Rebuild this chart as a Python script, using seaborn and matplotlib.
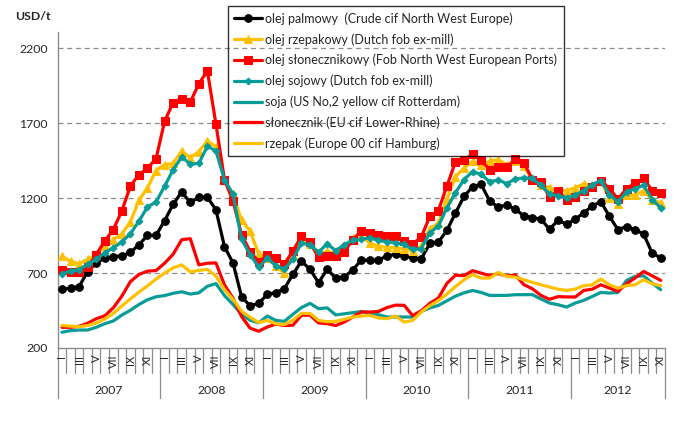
import matplotlib
matplotlib.use("Agg")
import matplotlib.pyplot as plt
import matplotlib.transforms as mtransforms
import numpy as np
import pandas as pd
import seaborn as sns

# monthly prices USD/t, Jan 2007 - Nov 2012
years = ["2007", "2008", "2009", "2010", "2011", "2012"]
month_labels = ["I", "", "III", "", "V", "", "VII", "", "IX", "", "XI", ""]

palm_oil = [593, 598, 610, 710, 768, 800, 810, 815, 838, 889, 952, 952,
            1050, 1160, 1242, 1172, 1205, 1207, 1123, 877, 767, 542, 481, 498,
            558, 570, 596, 692, 780, 725, 636, 725, 667, 673, 722, 787,
            785, 787, 815, 825, 815, 800, 795, 898, 906, 985, 1100, 1212,
            1276, 1293, 1182, 1140, 1156, 1127, 1082, 1071, 1060, 993, 1053, 1026,
            1059, 1103, 1148, 1177, 1079, 990, 1011, 990, 961, 833, 803]
rapeseed_oil = [812, 778, 762, 793, 820, 880, 924, 962, 1042, 1185, 1270, 1385,
                1425, 1432, 1515, 1470, 1511, 1582, 1544, 1320, 1225, 1053, 980, 828,
                802, 745, 700, 820, 924, 891, 820, 847, 829, 869, 936, 947,
                901, 880, 872, 870, 860, 850, 879, 995, 1035, 1192, 1345, 1401,
                1447, 1420, 1447, 1458, 1424, 1447, 1413, 1324, 1291, 1269, 1251, 1250,
                1269, 1296, 1280, 1313, 1202, 1162, 1220, 1220, 1251, 1191, 1169]
sunflower_oil = [718, 709, 709, 740, 824, 913, 991, 1115, 1281, 1358, 1400, 1464,
                 1714, 1839, 1865, 1842, 1963, 2051, 1695, 1324, 1180, 957, 843, 775,
                 820, 800, 760, 849, 945, 906, 805, 817, 812, 842, 924, 981,
                 970, 953, 951, 945, 917, 895, 940, 1078, 1117, 1281, 1442, 1452,
                 1497, 1455, 1389, 1411, 1408, 1459, 1436, 1325, 1306, 1211, 1248, 1189,
                 1209, 1250, 1276, 1318, 1263, 1195, 1262, 1303, 1332, 1250, 1237]
soybean_oil = [696, 713, 724, 758, 791, 836, 869, 909, 962, 1047, 1142, 1175,
               1280, 1390, 1475, 1428, 1433, 1547, 1516, 1323, 1227, 925, 824, 738,
               800, 750, 725, 795, 900, 890, 840, 895, 850, 890, 920, 925,
               936, 918, 909, 902, 891, 858, 864, 969, 1013, 1136, 1236, 1325,
               1377, 1360, 1310, 1322, 1298, 1328, 1336, 1332, 1285, 1230, 1215, 1204,
               1220, 1251, 1291, 1318, 1224, 1176, 1242, 1264, 1287, 1191, 1136]
soybeans = [305, 316, 320, 320, 338, 362, 380, 420, 452, 490, 522, 542,
            550, 565, 575, 560, 568, 612, 630, 550, 490, 425, 385, 368,
            413, 384, 378, 425, 470, 498, 462, 468, 421, 428, 436, 443,
            436, 422, 407, 407, 407, 407, 444, 467, 484, 515, 546, 568,
            584, 571, 551, 551, 551, 556, 556, 556, 527, 500, 489, 473,
            500, 518, 544, 571, 567, 571, 651, 678, 682, 633, 589]
sunflower_seed = [338, 338, 345, 365, 395, 415, 468, 546, 643, 691, 713, 717,
                  766, 826, 923, 930, 755, 766, 768, 621, 532, 410, 332, 312,
                  340, 360, 350, 352, 419, 419, 367, 363, 350, 373, 407, 440,
                  440, 444, 470, 486, 485, 417, 448, 498, 533, 631, 686, 683,
                  716, 700, 683, 697, 681, 688, 623, 595, 551, 525, 543, 541,
                  540, 584, 593, 622, 600, 578, 629, 667, 711, 682, 651]
rapeseed = [350, 346, 342, 350, 366, 393, 430, 481, 528, 573, 615, 660,
            700, 735, 755, 708, 718, 725, 680, 590, 525, 445, 405, 370,
            384, 362, 356, 386, 431, 431, 384, 375, 378, 391, 407, 413,
            418, 400, 396, 413, 373, 384, 440, 483, 516, 560, 610, 655,
            690, 667, 667, 704, 678, 673, 656, 638, 622, 607, 593, 584,
            593, 616, 622, 660, 622, 600, 616, 622, 656, 629, 616]

series_names = [
    "olej palmowy  (Crude cif North West Europe)",
    "olej rzepakowy (Dutch fob ex-mill)",
    "olej słonecznikowy (Fob North West European Ports)",
    "olej sojowy (Dutch fob ex-mill)",
    "soja (US No,2 yellow cif Rotterdam)",
    "słonecznik (EU cif Lower-Rhine)",
    "rzepak (Europe 00 cif Hamburg)",
]
series_values = [palm_oil, rapeseed_oil, sunflower_oil, soybean_oil,
                 soybeans, sunflower_seed, rapeseed]

BLACK = "#000000"
GOLD = "#FFC000"
RED = "#FF0000"
TEAL = "#089C98"
styles = [
    dict(color=BLACK, marker="o", markersize=5.5),
    dict(color=GOLD, marker="^", markersize=6),
    dict(color=RED, marker="s", markersize=5.5),
    dict(color=TEAL, marker="D", markersize=3.5),
    dict(color=TEAL, marker=None, markersize=0),
    dict(color=RED, marker=None, markersize=0),
    dict(color=GOLD, marker=None, markersize=0),
]

sns.set_style("white")
plt.rcParams['font.family'] = ['Lato', 'DejaVu Sans']

fig = plt.figure(figsize=(6.81, 4.22), dpi=100)
ax = fig.add_axes([0.0847, 0.1754, 0.8918, 0.7488])

n = len(palm_oil)
months = np.arange(n)

for i, (name, vals, st) in enumerate(zip(series_names, series_values, styles)):
    df = pd.DataFrame({"month": months, "price": vals})
    kw = dict(color=st["color"], lw=2.3, label=name, zorder=3 + i)
    if st["marker"]:
        kw.update(marker=st["marker"], markersize=st["markersize"],
                  markeredgecolor=st["color"], markerfacecolor=st["color"])
    sns.lineplot(data=df, x="month", y="price", ax=ax, **kw)

GRAY = "#8c8c8c"
ax.set_ylim(200, 2310)
ax.set_xlim(-0.5, n - 0.5)
ax.set_yticks([200, 700, 1200, 1700, 2200])
ax.set_xticks([])
ax.set_xlabel("")
ax.set_ylabel("")
for v in [700, 1200, 1700, 2200]:
    ax.axhline(v, color=GRAY, lw=0.9, ls=(0, (4, 3)), zorder=1)
for s in ["top", "right"]:
    ax.spines[s].set_visible(False)
for s in ["left", "bottom"]:
    ax.spines[s].set_color(GRAY)
    ax.spines[s].set_linewidth(1)
ax.tick_params(axis="y", labelsize=8.8, color=GRAY, length=4, width=1, pad=3)

# two-level category axis, Excel style
trans = mtransforms.blended_transform_factory(ax.transData, ax.transAxes)
for k in range(n + 1):
    long = (k % 12 == 0) or k == n
    ax.plot([k - 0.5, k - 0.5], [0, -0.158 if long else -0.079],
            transform=trans, color=GRAY, lw=0.9, clip_on=False)
for k in range(n):
    lab = month_labels[k % 12]
    if lab:
        ax.text(k, -0.022, lab, rotation=90, ha="center", va="top",
                transform=trans, fontsize=8)
for yi, yr in enumerate(years):
    start = 12 * yi
    end = min(start + 12, n)
    ax.text((start + end - 1) / 2, -0.133, yr, ha="center", va="center",
            transform=trans, fontsize=8.8)

fig.text(0.022, 0.962, "USD/t", fontsize=8.8, fontweight="bold", va="center")

handles, labels = ax.get_legend_handles_labels()
leg = ax.legend(handles, labels, loc="upper left",
                bbox_to_anchor=(0.3348, 0.9858), bbox_transform=fig.transFigure,
                borderaxespad=0, fontsize=9, frameon=True, fancybox=False,
                borderpad=0.5, labelspacing=0.66, handlelength=2.2,
                handletextpad=0.3)
leg.get_frame().set_edgecolor("black")
leg.get_frame().set_facecolor("none")
leg.get_frame().set_linewidth(1)
leg.set_zorder(20)

fig.savefig("out.png", dpi=100)
